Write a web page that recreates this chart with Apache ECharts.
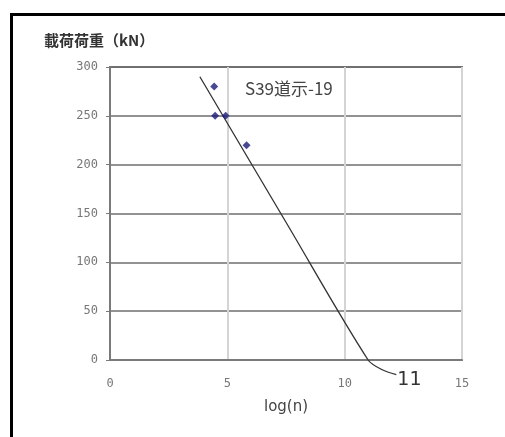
<!DOCTYPE html>
<html>
<head>
<meta charset="utf-8">
<script src="https://cdn.jsdelivr.net/npm/echarts@6/dist/echarts.min.js"></script>
<style>
html,body{margin:0;padding:0;background:#fff;}
#chart{width:505px;height:437px;}
</style>
</head>
<body>
<div id="chart"></div>
<script>
// Measured test points: log(n) vs load (kN)
const pointX = [4.44, 4.48, 4.93, 5.82];
const pointY = [280, 250, 250, 220];
// Fitted S-N line (with leader curve toward the "11" label)
const lineX = [3.83, 7.5, 11.0, 11.6, 12.2];
const lineY = [290, 141, 0, -10, -15];
const lineEndLabel = '11';
const xTicks = [0, 5, 10, 15];
const yTicks = [0, 50, 100, 150, 200, 250, 300];
const yTitle = '載荷荷重（kN）';
const xTitle = 'log(n)';
const seriesTitle = 'S39道示-19';

const chart = echarts.init(document.getElementById('chart'), null, {renderer: 'canvas'});
chart.setOption({
  animation: false,
  backgroundColor: '#fff',
  grid: {left: 110, top: 67, width: 352, height: 293, show: true, borderColor: '#7a7a7a', borderWidth: 2, backgroundColor: 'transparent'},
  xAxis: {
    type: 'value', min: xTicks[0], max: xTicks[xTicks.length - 1], interval: 5,
    name: xTitle, nameLocation: 'middle', nameGap: 40,
    nameTextStyle: {fontSize: 15, color: '#444', fontFamily: 'DejaVu Sans'},
    axisLine: {show: true, lineStyle: {color: '#7a7a7a', width: 2}},
    axisTick: {show: false},
    axisLabel: {margin: 18, fontSize: 12, color: '#777', fontFamily: 'DejaVu Sans Mono'},
    splitLine: {show: true, lineStyle: {color: '#d4d4d4', width: 2}}
  },
  yAxis: {
    type: 'value', min: yTicks[0], max: yTicks[yTicks.length - 1], interval: 50,
    axisLine: {show: true, lineStyle: {color: '#7a7a7a', width: 2}},
    axisTick: {show: true, length: 4, lineStyle: {color: '#7a7a7a'}},
    axisLabel: {margin: 12, fontSize: 12, color: '#777', fontFamily: 'DejaVu Sans Mono'},
    splitLine: {show: true, lineStyle: {color: '#6e6e6e', width: 1.5}}
  },
  graphic: [
    {type: 'rect', left: 9, top: 12, z: 100, silent: true,
      shape: {width: 620, height: 620}, style: {fill: 'none', stroke: '#000', lineWidth: 3}},
    {type: 'text', left: 44, top: 33, z: 100,
      style: {text: yTitle, fontSize: 15, fontWeight: 'bold', fill: '#333', fontFamily: 'Noto Sans CJK JP'}},
    {type: 'text', left: 245, top: 80, z: 100,
      style: {text: seriesTitle, fontSize: 17, fill: '#444', fontFamily: 'Noto Sans CJK JP'}}
  ],
  series: [
    {
      type: 'line', data: lineX.map((x, i) => [x, lineY[i]]), smooth: 0.3, symbol: 'none', clip: false,
      lineStyle: {color: '#333', width: 1.3}, z: 3,
      endLabel: {show: true, formatter: lineEndLabel, distance: 1, offset: [0, 5],
        fontSize: 19, color: '#333', fontFamily: 'DejaVu Sans'}
    },
    {
      type: 'scatter', data: pointX.map((x, i) => [x, pointY[i]]),
      symbol: 'diamond', symbolSize: 8, itemStyle: {color: '#1c1c78'}, z: 4
    }
  ]
});
</script>
</body>
</html>
